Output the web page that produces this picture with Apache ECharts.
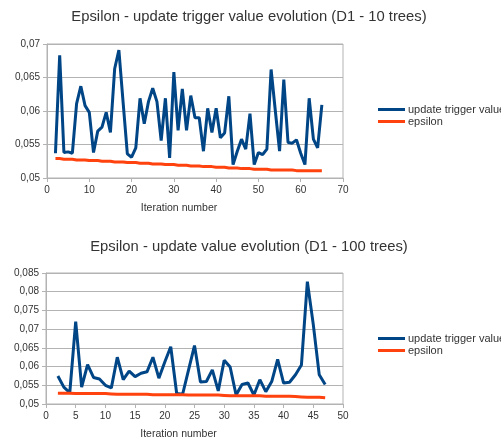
<!DOCTYPE html>
<html><head><meta charset="utf-8">
<script src="https://cdn.jsdelivr.net/npm/echarts@6/dist/echarts.min.js"></script>
<style>html,body{margin:0;padding:0;background:#fff}#c{width:501px;height:441px}</style>
</head><body><div id="c"></div>
<script>
var title1 = 'Epsilon - update trigger value evolution (D1 - 10 trees)';
var title2 = 'Epsilon - update value evolution (D1 - 100 trees)';
var seriesNames = ['update trigger value', 'epsilon'];
var xAxisName = 'Iteration number';
var firstIteration1 = 2;
var firstIteration2 = 2;
var trigger1 = [0.0537,0.0683,0.0538,0.0539,0.0537,0.0611,0.0637,0.0608,0.0598,0.0538,0.0570,0.0576,0.0598,0.0568,0.0663,0.0691,0.0613,0.0536,0.0531,0.0545,0.0619,0.0581,0.0614,0.0634,0.0614,0.0556,0.0619,0.0530,0.0658,0.0571,0.0633,0.0571,0.0623,0.0590,0.0590,0.0540,0.0604,0.0568,0.0604,0.0560,0.0567,0.0622,0.0520,0.0540,0.0558,0.0543,0.0596,0.0520,0.0538,0.0535,0.0543,0.0662,0.0600,0.0540,0.0647,0.0553,0.0552,0.0557,0.0537,0.0520,0.0619,0.0558,0.0545,0.0609];
var epsilon1 = [0.0529,0.0529,0.0528,0.0528,0.0528,0.0527,0.0527,0.0527,
0.0526,0.0526,0.0526,0.0525,0.0525,0.0525,0.0524,0.0524,
0.0524,0.0523,0.0523,0.0523,0.0522,0.0522,0.0522,0.0521,
0.0521,0.0521,0.0520,0.0520,0.0520,0.0519,0.0519,0.0519,
0.0518,0.0518,0.0518,0.0517,0.0517,0.0517,0.0516,0.0516,
0.0516,0.0515,0.0515,0.0515,0.0514,0.0514,0.0514,0.0513,
0.0513,0.0513,0.0513,0.0512,0.0512,0.0512,0.0512,0.0512,
0.0512,0.0511,0.0511,0.0511,0.0511,0.0511,0.0511,0.0511];
var trigger2 = [0.0575,0.0545,0.0530,0.0720,0.0545,0.0605,0.0571,0.0567,0.0550,0.0543,0.0625,0.0565,0.0588,0.0573,0.0582,0.0586,0.0625,0.0569,0.0612,0.0653,0.0528,0.0526,0.0591,0.0656,0.0559,0.0560,0.0591,0.0535,0.0617,0.0599,0.0524,0.0552,0.0556,0.0524,0.0565,0.0533,0.0560,0.0619,0.0556,0.0558,0.0578,0.0604,0.0827,0.0712,0.0578,0.0552];
var epsilon2 = [0.0529,0.0529,0.0529,0.0528,0.0528,0.0528,0.0528,0.0528,
0.0528,0.0527,0.0526,0.0526,0.0526,0.0526,0.0526,0.0526,
0.0525,0.0525,0.0525,0.0525,0.0525,0.0525,0.0524,0.0524,
0.0524,0.0524,0.0524,0.0524,0.0523,0.0522,0.0522,0.0522,
0.0522,0.0522,0.0522,0.0521,0.0521,0.0521,0.0521,0.0521,
0.0520,0.0519,0.0518,0.0518,0.0518,0.0517];

function pairs(start, arr){ return arr.map(function(v,i){ return [start+i, v]; }); }
var FONT = '"Liberation Sans", Arial, sans-serif';
var BLUE = '#004586', RED = '#ff420e', GRIDC = '#b3b3b3', TXT = '#333333';
function fmt(v){ return String(Math.round(v*1000)/1000).replace('.', ','); }

function xAx(gi, max, interval){
  return {type:'value', gridIndex:gi, min:0, max:max, interval:interval,
    name:xAxisName, nameLocation:'middle', nameGap:25,
    nameTextStyle:{fontFamily:FONT, fontSize:10.5, color:TXT, padding:[0,32,0,0]},
    axisLine:{show:true, lineStyle:{color:GRIDC}}, axisTick:{show:true, length:4, lineStyle:{color:GRIDC}},
    axisLabel:{fontFamily:FONT, fontSize:10, color:TXT, margin:7}, splitLine:{show:false}};
}
function yAx(gi, min, max){
  return {type:'value', gridIndex:gi, min:min, max:max, interval:0.005,
    axisLine:{show:true, lineStyle:{color:GRIDC}}, axisTick:{show:true, length:4, lineStyle:{color:GRIDC}},
    axisLabel:{fontFamily:FONT, fontSize:10, color:TXT, margin:7, formatter:fmt},
    splitLine:{show:true, lineStyle:{color:GRIDC, width:1}}};
}
function ser(name, data, color, idx){
  return {type:'line', name:name, xAxisIndex:idx, yAxisIndex:idx, data:data, showSymbol:false, symbol:'none',
    lineStyle:{color:color, width:3}, itemStyle:{color:color}, animation:false};
}
function legend(top){
  return {orient:'vertical', left:373, top:top, itemGap:1, itemWidth:27, itemHeight:3, icon:'rect',
    data:seriesNames, textStyle:{fontFamily:FONT, fontSize:11, color:TXT, padding:[0,0,0,-2]}};
}
var chart = echarts.init(document.getElementById('c'), null, {renderer:'canvas'});
chart.setOption({
  backgroundColor:'#ffffff',
  animation:false,
  title:[
    {text:title1, left:244, textAlign:'center', top:4, textStyle:{fontFamily:FONT, fontSize:14.8, fontWeight:'normal', color:TXT}},
    {text:title2, left:244, textAlign:'center', top:234, textStyle:{fontFamily:FONT, fontSize:14.8, fontWeight:'normal', color:TXT}}
  ],
  legend:[legend(99), legend(328)],
  grid:[
    {left:47, top:44, width:296, height:134, show:true, borderColor:GRIDC, borderWidth:1, containLabel:false},
    {left:46, top:273, width:297, height:135, show:true, borderColor:GRIDC, borderWidth:1, containLabel:false}
  ],
  xAxis:[xAx(0, 70, 10), xAx(1, 50, 5)],
  yAxis:[yAx(0, 0.05, 0.07), yAx(1, 0.05, 0.085)],
  series:[
    ser(seriesNames[0], pairs(firstIteration1, trigger1), BLUE, 0),
    ser(seriesNames[1], pairs(firstIteration1, epsilon1), RED, 0),
    ser(seriesNames[0], pairs(firstIteration2, trigger2), BLUE, 1),
    ser(seriesNames[1], pairs(firstIteration2, epsilon2), RED, 1)
  ]
});
</script></body></html>
